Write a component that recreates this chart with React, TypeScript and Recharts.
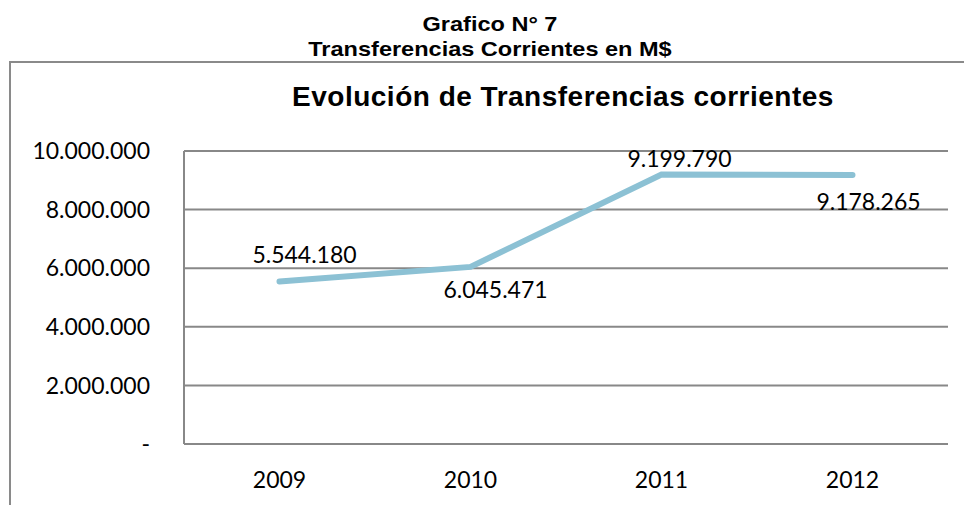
import React from "react";
import { LineChart, Line, XAxis, YAxis, CartesianGrid, LabelList } from "recharts";

const years = ["2009", "2010", "2011", "2012"];
const transferencias = [5544180, 6045471, 9199790, 9178265];
const yTicks = [0, 2000000, 4000000, 6000000, 8000000, 10000000];

const chartData = years.map((year, i) => ({ year, value: transferencias[i] }));

// Excel-style label placement around each point: [dx, dy to baseline]
const labelPlacement = [
  [25, -19],
  [25, 31],
  [18, -7],
  [16, 35],
];

const fmt = (v: number) =>
  v === 0 ? "-" : String(Math.round(v)).replace(/\B(?=(\d{3})+(?!\d))/g, ".");

const numFont = "Lato, 'Open Sans', sans-serif";

const PointLabel = (props: any) => {
  const { x, y, value, index } = props;
  const [dx, dy] = labelPlacement[index] || [0, -10];
  return (
    <text x={x + dx} y={y + dy} textAnchor="middle" fontSize={23} fontFamily={numFont} fill="#000">
      {fmt(value)}
    </text>
  );
};

const App: React.FC = () => {
  return (
    <div
      style={{
        position: "fixed",
        left: 0,
        top: 0,
        width: 964,
        height: 505,
        overflow: "hidden",
        background: "#fff",
        fontFamily: "'Liberation Sans', Arial, sans-serif",
      }}
    >
      <div
        style={{
          position: "absolute",
          top: 11,
          left: 490 - 300,
          width: 600,
          textAlign: "center",
          fontWeight: "bold",
          fontSize: 21,
          lineHeight: "25px",
          transform: "scaleX(1.12)",
        }}
      >
        Grafico N° 7
        <br />
        Transferencias Corrientes en M$
      </div>
      <div
        style={{
          position: "absolute",
          left: 9,
          top: 61,
          width: 1000,
          height: 500,
          border: "2px solid #8a8a8a",
        }}
      />
      <div
        style={{
          position: "absolute",
          top: 81,
          left: 563 - 400,
          width: 800,
          textAlign: "center",
          fontWeight: "bold",
          fontSize: 28,
          letterSpacing: 0.5,
          lineHeight: "32px",
        }}
      >
        Evolución de Transferencias corrientes
      </div>
      <div style={{ position: "absolute", left: 0, top: 0 }}>
        <LineChart width={964} height={505} data={chartData} margin={{ top: 151, right: 16, bottom: 11, left: 0 }}>
          <CartesianGrid vertical={false} stroke="#888888" strokeWidth={2} />
          <XAxis
            dataKey="year"
            height={50}
            padding={{ left: 95.5, right: 95.5 }}
            axisLine={false}
            tickLine={false}
            tick={{ fontSize: 23, fontFamily: numFont, fill: "#000" }}
            tickMargin={22}
          />
          <YAxis
            width={184}
            domain={[0, 10000000]}
            ticks={yTicks}
            tickFormatter={fmt}
            axisLine={{ stroke: "#888888", strokeWidth: 2 }}
            tickLine={false}
            tick={{ fontSize: 23, fontFamily: numFont, fill: "#000" }}
            tickMargin={28}
          />
          <Line
            type="linear"
            dataKey="value"
            stroke="#8cc1d4"
            strokeWidth={6}
            dot={false}
            strokeLinecap="round"
            isAnimationActive={false}
          >
            <LabelList dataKey="value" content={<PointLabel />} />
          </Line>
        </LineChart>
      </div>
    </div>
  );
};

export default App;
